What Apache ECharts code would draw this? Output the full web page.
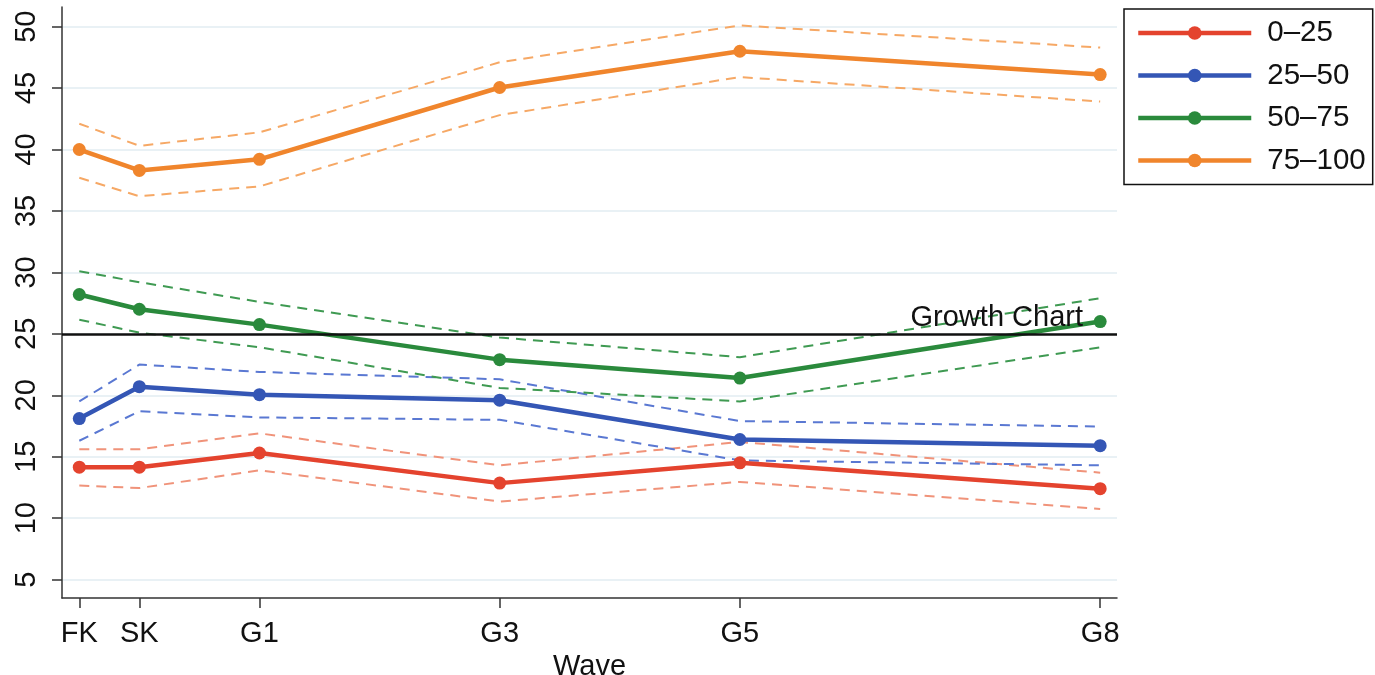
<!DOCTYPE html>
<html>
<head>
<meta charset="utf-8">
<script src="https://cdn.jsdelivr.net/npm/echarts@6/dist/echarts.min.js"></script>
<style>html,body{margin:0;padding:0;background:#fff}#c{width:1375px;height:675px}</style>
</head>
<body>
<div id="c"></div>
<script>
const waves = ['FK', 'SK', 'G1', 'G3', 'G5', 'G8'];
const wavePos = [-0.5, 0, 1, 3, 5, 8];
const yTicks = [5, 10, 15, 20, 25, 30, 35, 40, 45, 50];
const groupNames = ['0–25', '25–50', '50–75', '75–100'];

const mean0_25 = [14.15, 14.15, 15.3, 12.85, 14.5, 12.4];
const upper0_25 = [15.6, 15.6, 16.9, 14.3, 16.2, 13.7];
const lower0_25 = [12.65, 12.45, 13.9, 11.35, 12.95, 10.75];

const mean25_50 = [18.1, 20.7, 20.05, 19.6, 16.4, 15.9];
const upper25_50 = [19.5, 22.5, 21.9, 21.3, 17.9, 17.45];
const lower25_50 = [16.3, 18.7, 18.2, 18.0, 14.7, 14.3];

const mean50_75 = [28.2, 27.0, 25.75, 22.9, 21.4, 26.0];
const upper50_75 = [30.1, 29.2, 27.6, 24.7, 23.1, 27.9];
const lower50_75 = [26.15, 25.1, 23.9, 20.6, 19.5, 23.9];

const mean75_100 = [40.0, 38.3, 39.2, 45.05, 48.0, 46.1];
const upper75_100 = [42.1, 40.3, 41.4, 47.1, 50.1, 48.3];
const lower75_100 = [37.7, 36.2, 37.0, 42.8, 45.9, 43.9];

const growthChartValue = 25;
const growthChartLabel = 'Growth Chart';

const colors = ['#e4432e', '#3456b5', '#2a8a3c', '#f0852c'];
const ciColors = ['#f0937a', '#5a78d2', '#3f9a52', '#f6a865'];
const means = [mean0_25, mean25_50, mean50_75, mean75_100];
const uppers = [upper0_25, upper25_50, upper50_75, upper75_100];
const lowers = [lower0_25, lower25_50, lower50_75, lower75_100];

const pts = arr => arr.map((v, i) => [wavePos[i], v]);
const FONT = '"Liberation Sans", Arial, Helvetica, sans-serif';
const FS = 29;

const series = [];
for (let g = 0; g < 4; g++) {
  [uppers[g], lowers[g]].forEach((arr, k) => {
    series.push({
      name: groupNames[g] + (k ? ' lower' : ' upper'),
      type: 'line', data: pts(arr), symbol: 'none', silent: true,
      lineStyle: { color: ciColors[g], width: 2, type: [10, 7] },
      z: 2
    });
  });
}
for (let g = 0; g < 4; g++) {
  const s = {
    name: groupNames[g], type: 'line', data: pts(means[g]),
    symbol: 'circle', symbolSize: 13,
    itemStyle: { color: colors[g] },
    lineStyle: { color: colors[g], width: 4.5 },
    z: 3
  };
  if (g === 0) {
    s.markLine = {
      silent: true, symbol: 'none',
      lineStyle: { color: '#111', width: 2.5, type: 'solid' },
      label: { show: true, formatter: growthChartLabel, position: 'insideEndTop',
        color: '#111', fontSize: FS, fontFamily: FONT, distance: [34, 1] },
      data: [{ yAxis: growthChartValue }]
    };
  }
  series.push(s);
}

const chart = echarts.init(document.getElementById('c'), null, { renderer: 'canvas' });
chart.setOption({
  animation: false,
  backgroundColor: '#fff',
  textStyle: { fontFamily: FONT },
  grid: { left: 62, right: 258, top: 7, bottom: 77, containLabel: false, outerBoundsMode: 'none' },
  legend: {
    data: groupNames, orient: 'vertical', left: 1124, top: 9,
    padding: [9, 7, 9, 12], itemWidth: 113, itemHeight: 17, itemGap: 12.5,
    borderColor: '#111', borderWidth: 1.5,
    lineStyle: { width: 4.5 },
    textStyle: { fontSize: 29.5, color: '#111', fontFamily: FONT, padding: [0, 0, 0, 11] }
  },
  xAxis: {
    type: 'value', min: -0.644, max: 8.14,
    name: 'Wave', nameLocation: 'middle', nameGap: 44,
    nameTextStyle: { fontSize: FS, color: '#111', fontFamily: FONT },
    axisLine: { show: true, onZero: false, lineStyle: { color: '#333', width: 1.5 } },
    axisTick: { show: true, length: 10, inside: false, customValues: wavePos, lineStyle: { color: '#333', width: 1.5 } },
    axisLabel: {
      show: true, customValues: wavePos, margin: 21, fontSize: FS, color: '#111', fontFamily: FONT,
      formatter: v => { const i = wavePos.findIndex(p => Math.abs(p - v) < 1e-6); return i >= 0 ? waves[i] : ''; }
    },
    splitLine: { show: false }
  },
  yAxis: {
    type: 'value', min: 3.5, max: 51.6,
    axisLine: { show: true, onZero: false, lineStyle: { color: '#333', width: 1.5 } },
    axisTick: { show: true, length: 10, inside: false, customValues: yTicks, lineStyle: { color: '#333', width: 1.5 } },
    axisLabel: { show: true, customValues: yTicks, rotate: 90, margin: 21, fontSize: FS, color: '#111', fontFamily: FONT, hideOverlap: false },
    splitLine: { show: true, lineStyle: { color: '#e2edf2', width: 1.5 } }
  },
  series: series
});
</script>
</body>
</html>
